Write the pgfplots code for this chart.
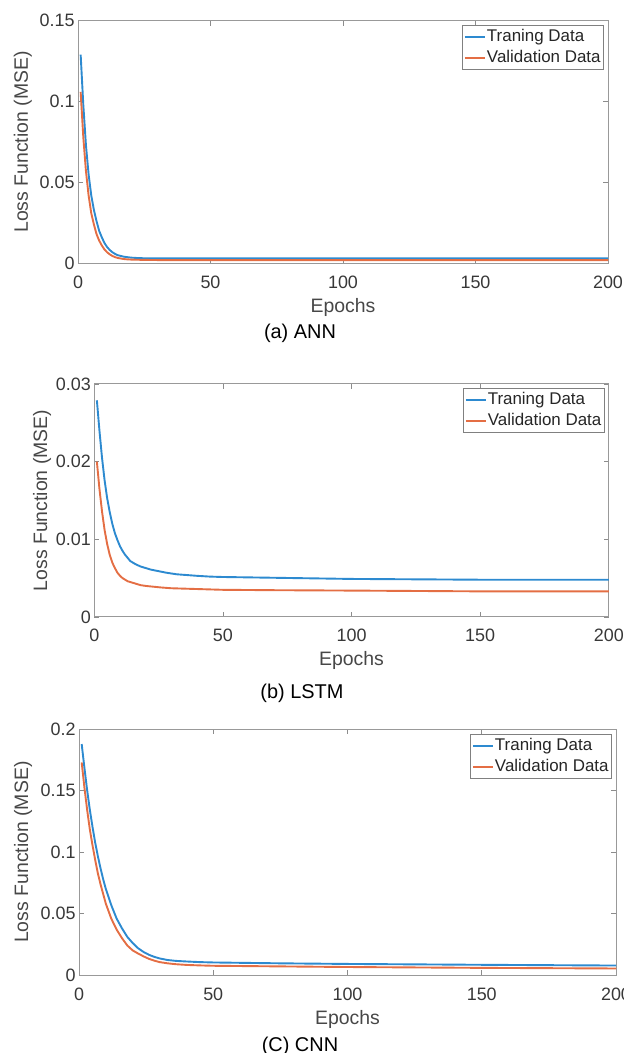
\documentclass[border=0pt]{standalone}
\usepackage{fontspec}
\setmainfont{Liberation Sans}
\usepackage{pgfplots}
\pgfplotsset{compat=1.18}

\definecolor{mblue}{RGB}{45,138,208}
\definecolor{morange}{RGB}{228,110,68}

\pgfplotsset{
  lossax/.style={
    scale only axis, anchor=south west,
    xmin=0, xmax=200, ymin=0,
    xtick={0,50,100,150,200}, xticklabels={0,50,100,150,200},
    scaled ticks=false,
    tick align=inside, tick pos=both, major tick length=5bp,
    axis line style={black!40, line width=1bp},
    tick style={black!45, line width=0.8bp},
    tick label style={font=\fontsize{18}{20}\selectfont, text=black!78},
    xticklabel style={anchor=base, yshift=-25bp},
    xlabel={Epochs}, ylabel={Loss Function (MSE)},
    label style={font=\fontsize{19.5}{22}\selectfont, text=black!72},
    xlabel style={at={(rel axis cs:0.5,0)}, anchor=base, yshift=-49bp},
    legend cell align=left,
    legend style={font=\fontsize{17}{19}\selectfont, text=black!85,
      draw=black!50, line width=0.8bp,
      at={(rel axis cs:1,1)}, anchor=north east, xshift=-4.5bp, yshift=-4.5bp,
      inner xsep=1.5bp, inner ysep=1bp, row sep=0bp, column sep=0bp,
      nodes={inner sep=1bp, text height=12.4bp, text depth=3.6bp, inner ysep=2.5bp}},
    legend image code/.code={\draw[#1, line width=2bp] (0bp,0bp) -- (20bp,0bp);},
    every axis plot/.append style={line width=1.9bp},
  }
}

\begin{document}
\begin{tikzpicture}
% (a) ANN
\begin{axis}[lossax, at={(78bp,789.7bp)}, width=530bp, height=242.6bp,
  ymax=0.15, ytick={0,0.05,0.1,0.15}, yticklabels={0,0.05,0.1,0.15},
  ylabel style={at={(axis description cs:-0.104,0.5)}, anchor=center}]
\addplot[mblue] coordinates {(1,0.129) (2,0.098) (3,0.073) (4,0.055) (5,0.042) (6,0.033) (7,0.026) (8,0.020) (9,0.016) (10,0.0125) (11,0.010) (12,0.0082) (13,0.0068) (14,0.0058) (15,0.0050) (16,0.0046) (17,0.0042) (18,0.0039) (19,0.0037) (20,0.0035) (22,0.0033) (25,0.0031) (30,0.0030) (50,0.0030) (100,0.0030) (150,0.0030) (200,0.0030)};
\addlegendentry{Traning Data}
\addplot[morange] coordinates {(1,0.106) (2,0.078) (3,0.057) (4,0.042) (5,0.031) (6,0.024) (7,0.018) (8,0.014) (9,0.011) (10,0.0085) (11,0.0068) (12,0.0055) (13,0.0045) (14,0.0038) (15,0.0033) (16,0.0030) (17,0.0027) (18,0.0025) (19,0.0024) (20,0.0023) (22,0.0022) (25,0.0021) (30,0.0020) (50,0.0020) (100,0.0020) (150,0.0020) (200,0.0020)};
\addlegendentry{Validation Data}
\end{axis}
\node[anchor=base, font=\fontsize{20}{22}\selectfont] at (300bp,714.7bp) {(a) ANN};

% (b) LSTM
\begin{axis}[lossax, at={(94.3bp,436bp)}, width=514.5bp, height=233bp,
  ymax=0.03, ytick={0,0.01,0.02,0.03}, yticklabels={0,0.01,0.02,0.03},
  ylabel style={at={(axis description cs:-0.1017,0.5)}, anchor=center}]
\addplot[mblue] coordinates {(1,0.0279) (2,0.0240) (3,0.0205) (4,0.0176) (5,0.0153) (6,0.0135) (7,0.0120) (8,0.0108) (9,0.0099) (10,0.0091) (11,0.0085) (12,0.0080) (13,0.0076) (14,0.0072) (15,0.0070) (16,0.0068) (18,0.0065) (20,0.0063) (22,0.0061) (25,0.0059) (28,0.0057) (32,0.0055) (36,0.0054) (40,0.0053) (45,0.0052) (50,0.00515) (60,0.0051) (80,0.0050) (100,0.0049) (150,0.0048) (200,0.0048)};
\addlegendentry{Traning Data}
\addplot[morange] coordinates {(1,0.0200) (2,0.0165) (3,0.0136) (4,0.0112) (5,0.0094) (6,0.0080) (7,0.0070) (8,0.0063) (9,0.0057) (10,0.0053) (11,0.0050) (12,0.0048) (13,0.0046) (14,0.0045) (16,0.0043) (18,0.0041) (20,0.0040) (23,0.0039) (26,0.0038) (30,0.0037) (35,0.00365) (40,0.0036) (50,0.0035) (70,0.00345) (100,0.0034) (150,0.0033) (200,0.0033)};
\addlegendentry{Validation Data}
\end{axis}
\node[anchor=base, font=\fontsize{20}{22}\selectfont] at (302bp,354.7bp) {(b) LSTM};

% (C) CNN
\begin{axis}[lossax, at={(79bp,78bp)}, width=537bp, height=245.7bp,
  ymax=0.2, ytick={0,0.05,0.1,0.15,0.2}, yticklabels={0,0.05,0.1,0.15,0.2},
  ylabel style={at={(axis description cs:-0.1043,0.5)}, anchor=center}]
\addplot[mblue] coordinates {(1,0.188) (2,0.169) (3,0.151) (4,0.135) (5,0.121) (6,0.108) (7,0.097) (8,0.087) (9,0.078) (10,0.070) (12,0.057) (14,0.046) (16,0.038) (18,0.031) (20,0.026) (22,0.0218) (24,0.0188) (26,0.0165) (28,0.0148) (30,0.0135) (33,0.0122) (36,0.0115) (40,0.0110) (45,0.0105) (50,0.0102) (75,0.0095) (100,0.0090) (150,0.0083) (200,0.0077)};
\addlegendentry{Traning Data}
\addplot[morange] coordinates {(1,0.173) (2,0.153) (3,0.135) (4,0.119) (5,0.106) (6,0.094) (7,0.083) (8,0.074) (9,0.066) (10,0.058) (12,0.046) (14,0.037) (16,0.030) (18,0.024) (20,0.020) (22,0.0175) (24,0.0152) (26,0.0132) (28,0.0117) (30,0.0105) (33,0.0095) (36,0.0088) (40,0.0082) (45,0.0078) (50,0.0075) (75,0.0070) (100,0.0065) (150,0.0058) (200,0.0053)};
\addlegendentry{Validation Data}
\end{axis}
\node[anchor=base, font=\fontsize{20}{22}\selectfont] at (300bp,1.3bp) {(C) CNN};

\pgfresetboundingbox
\path[use as bounding box] (0,0) rectangle (624bp,1053bp);
\end{tikzpicture}
\end{document}
